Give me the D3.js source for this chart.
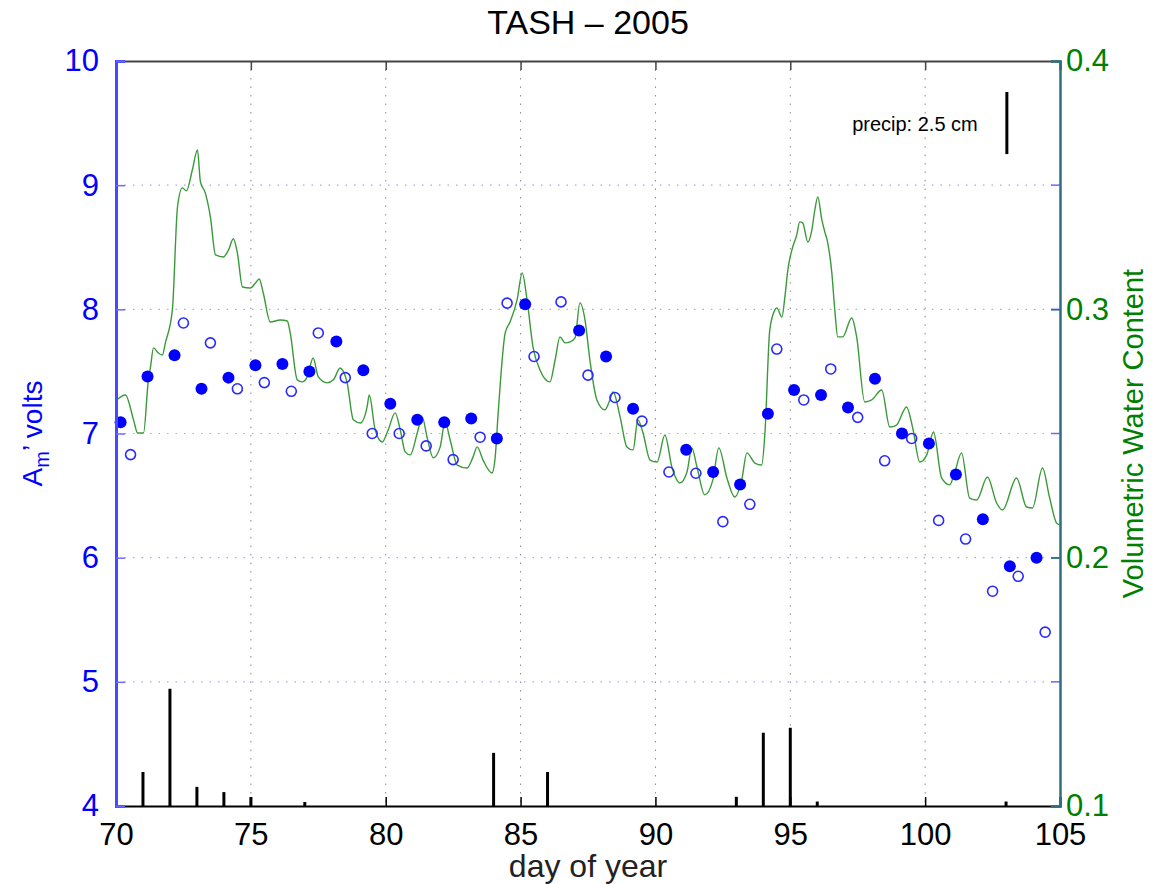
<!DOCTYPE html>
<html>
<head>
<meta charset="utf-8">
<script src="https://cdn.jsdelivr.net/npm/d3@7"></script>
<style>
  body { margin: 0; background: #fff; }
  svg { display: block; font-family: "Liberation Sans", Arial, Helvetica, sans-serif; }
</style>
</head>
<body>
<div id="chart"></div>
<script>
// amplitude readings (volts), filled = night sample, open = midday sample
const filledDay = [70.17, 71.17, 72.17, 73.17, 74.17, 75.17, 76.17, 77.17, 78.17, 79.17,
  80.17, 81.17, 82.17, 83.17, 84.12, 85.17, 87.17, 88.17, 89.17, 91.14, 92.14, 93.14,
  94.17, 95.14, 96.14, 97.14, 98.14, 99.14, 100.14, 101.14, 102.14, 103.14, 104.13];
const filledVolts = [7.09, 7.46, 7.63, 7.36, 7.45, 7.55, 7.56, 7.50, 7.74, 7.51,
  7.24, 7.11, 7.09, 7.12, 6.96, 8.04, 7.83, 7.62, 7.20, 6.87, 6.69, 6.59,
  7.16, 7.35, 7.31, 7.21, 7.44, 7.00, 6.92, 6.67, 6.31, 5.93, 6.00];

const openDay = [70.54, 72.5, 73.5, 74.5, 75.5, 76.5, 77.5, 78.5, 79.5, 80.5, 81.5, 82.5,
  83.5, 84.5, 85.5, 86.5, 87.5, 88.5, 89.5, 90.5, 91.5, 92.5, 93.5, 94.5, 95.5, 96.5,
  97.5, 98.5, 99.5, 100.5, 101.5, 102.5, 103.45, 104.45];
const openVolts = [6.83, 7.89, 7.73, 7.36, 7.41, 7.34, 7.81, 7.45, 7.00, 7.00, 6.90, 6.79,
  6.97, 8.05, 7.62, 8.06, 7.47, 7.29, 7.10, 6.69, 6.68, 6.29, 6.43, 7.68, 7.27, 7.52,
  7.13, 6.78, 6.96, 6.30, 6.15, 5.73, 5.85, 5.40];

// volumetric water content trace
const vwcDay = [70.02, 70.35, 70.65, 70.80, 71.02, 71.20, 71.28, 71.39, 71.57, 71.72, 71.83,
  72.09, 72.28, 72.46, 72.61, 72.83, 73.02, 73.13, 73.31, 73.50, 73.69, 73.98, 74.17,
  74.35, 74.50, 74.69, 74.98, 75.17, 75.31, 75.46, 75.72, 76.09, 76.35, 76.46, 76.72,
  76.91, 77.09, 77.31, 77.50, 77.83, 78.06, 78.31, 78.57, 78.80, 79.06, 79.31, 79.39,
  79.61, 79.87, 80.09, 80.35, 80.54, 80.72, 80.91, 81.17, 81.35, 81.54, 81.76, 82.02,
  82.20, 82.39, 82.65, 83.02, 83.24, 83.39, 83.61, 83.94, 84.06, 84.17, 84.43, 84.61,
  84.87, 85.06, 85.24, 85.46, 85.72, 86.09, 86.28, 86.46, 86.65, 86.83, 87.02, 87.20,
  87.39, 87.57, 87.83, 88.13, 88.31, 88.43, 88.69, 88.94, 89.17, 89.35, 89.54, 89.80,
  90.06, 90.35, 90.61, 90.91, 91.17, 91.35, 91.54, 91.83, 92.13, 92.35, 92.65, 92.94,
  93.20, 93.39, 93.69, 93.94, 94.06, 94.24, 94.43, 94.50, 94.69, 94.80, 94.91, 95.09,
  95.24, 95.35, 95.46, 95.65, 95.80, 95.91, 96.02, 96.17, 96.28, 96.39, 96.54, 96.65,
  96.76, 96.94, 97.28, 97.46, 97.76, 98.02, 98.39, 98.69, 98.94, 99.31, 99.54, 99.80,
  100.06, 100.31, 100.61, 100.91, 101.09, 101.35, 101.65, 101.91, 102.31, 102.65,
  102.87, 103.39, 103.76, 103.98, 104.35, 104.61, 104.87, 104.98];
const vwcValue = [0.2635, 0.2655, 0.2555, 0.2502, 0.2502, 0.2716, 0.2768, 0.2845, 0.2824, 0.2816, 0.2865,
  0.2998, 0.3412, 0.3489, 0.3477, 0.3561, 0.3642, 0.3513, 0.3469, 0.3372, 0.3219, 0.3211, 0.3239,
  0.3284, 0.3227, 0.3090, 0.3086, 0.3106, 0.3122, 0.3066, 0.2949, 0.2957, 0.2953, 0.2905, 0.2716,
  0.2708, 0.2728, 0.2804, 0.2728, 0.2704, 0.2716, 0.2764, 0.2704, 0.2555, 0.2542, 0.2607, 0.2655,
  0.2514, 0.2466, 0.2514, 0.2583, 0.2514, 0.2426, 0.2414, 0.2502, 0.2567, 0.2482, 0.2402, 0.2446,
  0.2547, 0.2474, 0.2373, 0.2361, 0.2406, 0.2446, 0.2393, 0.2341, 0.2406, 0.2583, 0.2905, 0.2949,
  0.3038, 0.3147, 0.3038, 0.2849, 0.2756, 0.2708, 0.2796, 0.2889, 0.2865, 0.2869, 0.2885, 0.3026,
  0.2957, 0.2796, 0.2635, 0.2595, 0.2635, 0.2667, 0.2567, 0.2446, 0.2434, 0.2555, 0.2502, 0.2393,
  0.2385, 0.2494, 0.2365, 0.2301, 0.2345, 0.2442, 0.2365, 0.2253, 0.2313, 0.2442, 0.2321, 0.2244,
  0.2313, 0.2422, 0.2381, 0.2373, 0.2502, 0.2917, 0.2998, 0.3006, 0.2969, 0.3050, 0.3159, 0.3251,
  0.3300, 0.3352, 0.3348, 0.3271, 0.3320, 0.3400, 0.3453, 0.3360, 0.3312, 0.3267, 0.3147, 0.2998,
  0.2889, 0.2889, 0.2965, 0.2889, 0.2627, 0.2635, 0.2675, 0.2526, 0.2534, 0.2607, 0.2522, 0.2385,
  0.2414, 0.2506, 0.2321, 0.2293, 0.2341, 0.2422, 0.2240, 0.2232, 0.2325, 0.2220,
  0.2192, 0.2321, 0.2204, 0.2200, 0.2361, 0.2244, 0.2140, 0.2132];

// daily precipitation (cm)
const precipDay = [71, 72, 73, 74, 75, 77, 84, 86, 93, 94, 95, 96, 103];
const precipCm = [1.37, 4.72, 0.77, 0.56, 0.36, 0.16, 2.14, 1.37, 0.37, 2.95, 3.15, 0.18, 0.18];

const xTicks = [70, 75, 80, 85, 90, 95, 100, 105];
const voltTicks = [4, 5, 6, 7, 8, 9, 10];
const vwcTicks = [0.1, 0.2, 0.3, 0.4];
const precipKey = 2.5;

const W = 1160;
const H = 884;
const margin = { top: 61, right: 100, bottom: 78, left: 116 };
const width = W - margin.left - margin.right;
const height = H - margin.top - margin.bottom;

const blue = '#0000ff';
const green = '#008000';

const svg = d3.select('#chart').append('svg')
  .attr('width', W)
  .attr('height', H);

const g = svg.append('g')
  .attr('transform', `translate(${margin.left},${margin.top})`);

const x = d3.scaleLinear().domain([70, 105]).range([0, width]);
const yV = d3.scaleLinear().domain([4, 10]).range([height, 0]);
const yW = d3.scaleLinear().domain([0.1, 0.4]).range([height, 0]);
const yP = d3.scaleLinear().domain([0, 30]).range([height, 0]);

// grid
g.append('g')
  .selectAll('line')
  .data(xTicks.slice(1, -1))
  .join('line')
  .attr('x1', d => x(d)).attr('x2', d => x(d))
  .attr('y1', 0).attr('y2', height)
  .attr('stroke', '#8a8a8a')
  .attr('stroke-width', 1)
  .attr('stroke-dasharray', '1.5,7');

g.append('g')
  .selectAll('line')
  .data(voltTicks.slice(1, -1))
  .join('line')
  .attr('x1', 0).attr('x2', width)
  .attr('y1', d => yV(d)).attr('y2', d => yV(d))
  .attr('stroke', '#a0a8ff')
  .attr('stroke-width', 1.2)
  .attr('stroke-dasharray', '1.5,7');

// precipitation bars
const precip = precipDay.map((d, i) => ({ day: d, cm: precipCm[i] }));
g.append('g')
  .selectAll('line')
  .data(precip)
  .join('line')
  .attr('x1', d => x(d.day)).attr('x2', d => x(d.day))
  .attr('y1', height).attr('y2', d => yP(d.cm))
  .attr('stroke', '#000')
  .attr('stroke-width', 3);

// precip key
const keyX = x(103.03);
const keyTop = 31;
g.append('line')
  .attr('x1', keyX).attr('x2', keyX)
  .attr('y1', keyTop).attr('y2', keyTop + (yP(0) - yP(precipKey)))
  .attr('stroke', '#000')
  .attr('stroke-width', 3);
g.append('text')
  .attr('x', x(101.95)).attr('y', 70)
  .attr('text-anchor', 'end')
  .attr('font-size', 20)
  .attr('fill', '#000')
  .text(`precip: ${precipKey} cm`);

// VWC line
const vwc = vwcDay.map((d, i) => ({ day: d, v: vwcValue[i] }));
g.append('path')
  .datum(vwc)
  .attr('fill', 'none')
  .attr('stroke', '#3a9a3a')
  .attr('stroke-width', 1.4)
  .attr('d', d3.line()
    .x(d => x(d.day))
    .y(d => yW(d.v))
    .curve(d3.curveMonotoneX));

// open circles
const open = openDay.map((d, i) => ({ day: d, v: openVolts[i] }));
g.append('g')
  .selectAll('circle')
  .data(open)
  .join('circle')
  .attr('cx', d => x(d.day))
  .attr('cy', d => yV(d.v))
  .attr('r', 5)
  .attr('fill', 'none')
  .attr('stroke', '#2a2aff')
  .attr('stroke-width', 1.6);

// filled circles
const filled = filledDay.map((d, i) => ({ day: d, v: filledVolts[i] }));
g.append('g')
  .selectAll('circle')
  .data(filled)
  .join('circle')
  .attr('cx', d => x(d.day))
  .attr('cy', d => yV(d.v))
  .attr('r', 6)
  .attr('fill', blue);

// axes frame
const tickLen = 9;
const fontFam = '"Liberation Sans", Arial, sans-serif';

// bottom axis
const xAxisBottom = g.append('g').attr('transform', `translate(0,${height})`)
  .call(d3.axisBottom(x).tickValues(xTicks).tickSize(-tickLen).tickPadding(tickLen + 8));
xAxisBottom.select('.domain').attr('stroke', '#000').attr('stroke-width', 2);
xAxisBottom.selectAll('.tick line').attr('stroke', '#000').attr('stroke-width', 1.5);
xAxisBottom.selectAll('.tick text')
  .attr('font-size', 31).attr('fill', '#000')
  .attr('font-family', fontFam);

// top axis
const xAxisTop = g.append('g')
  .call(d3.axisTop(x).tickValues(xTicks).tickSize(-tickLen).tickFormat(''));
xAxisTop.select('.domain').attr('stroke', '#444').attr('stroke-width', 2);
xAxisTop.selectAll('.tick line').attr('stroke', '#444').attr('stroke-width', 1.5);

// left axis (volts)
const yAxisLeft = g.append('g')
  .call(d3.axisLeft(yV).tickValues(voltTicks).tickSize(-tickLen).tickPadding(tickLen + 8)
    .tickFormat(d3.format('d')));
yAxisLeft.select('.domain').attr('stroke', '#4848ff').attr('stroke-width', 3);
yAxisLeft.selectAll('.tick line').attr('stroke', '#6a6aff').attr('stroke-width', 1.5);
yAxisLeft.selectAll('.tick text')
  .attr('font-size', 31).attr('fill', blue)
  .attr('font-family', fontFam);

// volt ticks mirrored on right side
g.append('g')
  .selectAll('line')
  .data(voltTicks.slice(1, -1))
  .join('line')
  .attr('x1', width - tickLen).attr('x2', width)
  .attr('y1', d => yV(d)).attr('y2', d => yV(d))
  .attr('stroke', '#6a6aff')
  .attr('stroke-width', 1.5);

// right axis (VWC)
const yAxisRight = g.append('g').attr('transform', `translate(${width},0)`)
  .call(d3.axisRight(yW).tickValues(vwcTicks).tickSize(-tickLen).tickPadding(6)
    .tickFormat(d3.format('.1f')));
yAxisRight.select('.domain').attr('stroke', '#2f6f7f').attr('stroke-width', 2.5);
yAxisRight.selectAll('.tick line').attr('stroke', '#2f6f7f').attr('stroke-width', 1.5);
yAxisRight.selectAll('.tick text')
  .attr('font-size', 31).attr('fill', green)
  .attr('font-family', fontFam);

// title and labels
svg.append('text')
  .attr('x', margin.left + width / 2).attr('y', 34)
  .attr('text-anchor', 'middle')
  .attr('font-size', 34)
  .attr('fill', '#000')
  .text('TASH \u2013 2005');

svg.append('text')
  .attr('x', margin.left + width / 2).attr('y', 877)
  .attr('text-anchor', 'middle')
  .attr('font-size', 32)
  .attr('fill', '#222')
  .text('day of year');

const yLabel = svg.append('text')
  .attr('transform', `translate(42,${margin.top + yV(7)}) rotate(-90)`)
  .attr('text-anchor', 'middle')
  .attr('font-size', 28)
  .attr('fill', blue);
yLabel.append('tspan').text('A');
yLabel.append('tspan').attr('font-size', 20).attr('dy', 7).text('m');
yLabel.append('tspan').attr('dy', -7).text('\u2019 volts');

svg.append('text')
  .attr('transform', `translate(1143,${margin.top + yV(7)}) rotate(-90)`)
  .attr('text-anchor', 'middle')
  .attr('font-size', 29)
  .attr('fill', green)
  .text('Volumetric Water Content');
</script>
</body>
</html>
